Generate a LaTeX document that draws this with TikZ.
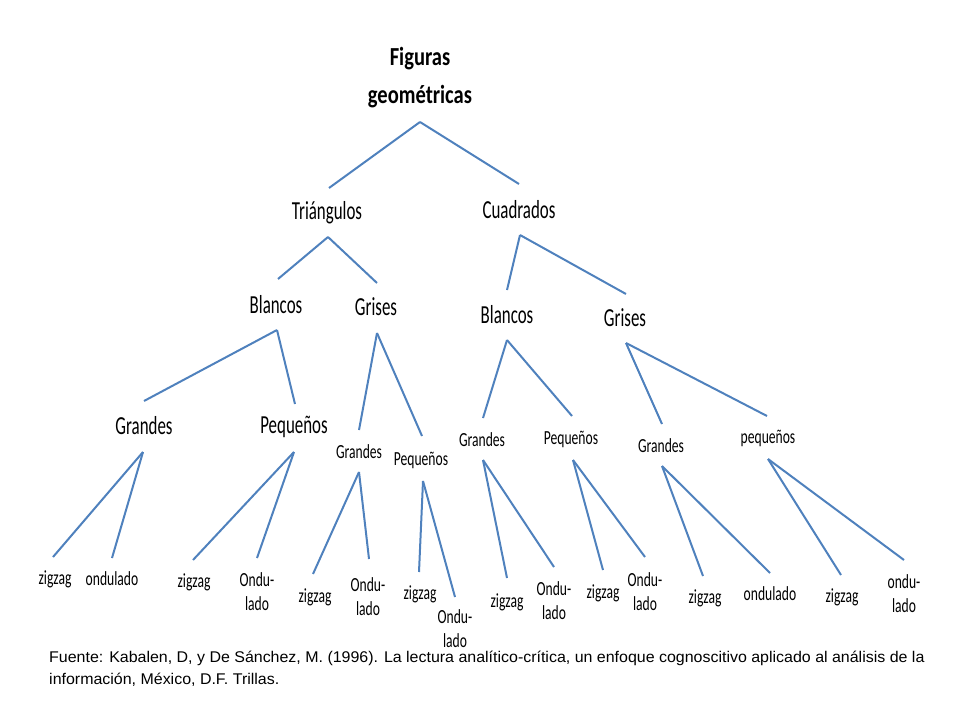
\documentclass[tikz,border=0pt]{standalone}
\usepackage{fontspec}
\setmainfont{Carlito}
\newfontfamily\sourcefont{Liberation Sans}
\usepackage{xcolor}
\usetikzlibrary{calc}

\definecolor{lineblue}{RGB}{79,129,189}

\tikzset{
  branch/.style = {draw=lineblue, line width=2pt},
  rootlbl/.style = {font=\bfseries\fontsize{26}{38}\selectfont, align=center, xscale=0.79, inner sep=0pt},
  biglbl/.style = {font=\fontsize{26}{30}\selectfont, xscale=0.65, inner sep=0pt},
  smalllbl/.style = {font=\fontsize{20}{24}\selectfont, align=center, xscale=0.68, inner sep=0pt},
  srclbl/.style = {font=\sourcefont\fontsize{15.5}{22}\selectfont, xscale=1.03, anchor=base west, inner sep=0pt},
}

\begin{document}
\begin{tikzpicture}[x=1pt,y=-1pt]

  \useasboundingbox (0,0) rectangle (960,720);

  % Labels of the tree, one level after the other
  \node[rootlbl] (fig) at (420,78) {Figuras\\geométricas};

  \node[biglbl] (tri) at (327,213) {Triángulos};
  \node[biglbl] (cua) at (519,210) {Cuadrados};

  \node[biglbl] (tbl) at (276,305) {Blancos};
  \node[biglbl] (tgr) at (376,307) {Grises};
  \node[biglbl] (cbl) at (507,315) {Blancos};
  \node[biglbl] (cgr) at (625,318) {Grises};

  \node[biglbl]   (tblG) at (144,426) {Grandes};
  \node[biglbl]   (tblP) at (294,427) {Pequeños};
  \node[smalllbl] (tgrG) at (359,452) {Grandes};
  \node[smalllbl] (tgrP) at (421,460) {Pequeños};
  \node[smalllbl] (cblG) at (482,440) {Grandes};
  \node[smalllbl] (cblP) at (571,439) {Pequeños};
  \node[smalllbl] (cgrG) at (661,446) {Grandes};
  \node[smalllbl] (cgrP) at (768,438) {pequeños};

  % leaves
  \node[smalllbl] (tblGz) at (55,579)  {zigzag};
  \node[smalllbl] (tblGo) at (112,579) {ondulado};
  \node[smalllbl] (tblPz) at (194,582) {zigzag};
  \node[smalllbl] (tblPo) at (257,592) {Ondu-\\lado};
  \node[smalllbl] (tgrGz) at (315,597) {zigzag};
  \node[smalllbl] (tgrGo) at (368,597) {Ondu-\\lado};
  \node[smalllbl] (tgrPz) at (420,594) {zigzag};
  \node[smalllbl] (tgrPo) at (455,629) {Ondu-\\lado};
  \node[smalllbl] (cblGz) at (507,602) {zigzag};
  \node[smalllbl] (cblGo) at (554,601) {Ondu-\\lado};
  \node[smalllbl] (cblPz) at (603,593) {zigzag};
  \node[smalllbl] (cblPo) at (645,592) {Ondu-\\lado};
  \node[smalllbl] (cgrGz) at (705,598) {zigzag};
  \node[smalllbl] (cgrGo) at (770,594) {ondulado};
  \node[smalllbl] (cgrPz) at (842,597) {zigzag};
  \node[smalllbl] (cgrPo) at (904,594) {ondu-\\lado};

  % Apex under each parent label
  \coordinate (fig-a)  at (420,122);
  \coordinate (tri-a)  at (328,237);
  \coordinate (cua-a)  at (520,235);
  \coordinate (tbl-a)  at (277,330);
  \coordinate (tgr-a)  at (377,333);
  \coordinate (cbl-a)  at (507,340);
  \coordinate (cgr-a)  at (626,343);
  \coordinate (tblG-a) at (143,452);
  \coordinate (tblP-a) at (294,452);
  \coordinate (tgrG-a) at (359,472);
  \coordinate (tgrP-a) at (423,481);
  \coordinate (cblG-a) at (483,460);
  \coordinate (cblP-a) at (573,460);
  \coordinate (cgrG-a) at (662,466);
  \coordinate (cgrP-a) at (768,459);

  % Free end above each child label
  \coordinate (tri-t)   at (329,188);
  \coordinate (cua-t)   at (519,184);
  \coordinate (tbl-t)   at (278,279);
  \coordinate (tgr-t)   at (377,283);
  \coordinate (cbl-t)   at (507,290);
  \coordinate (cgr-t)   at (626,294);
  \coordinate (tblG-t)  at (144,401);
  \coordinate (tblP-t)  at (295,404);
  \coordinate (tgrG-t)  at (359,430);
  \coordinate (tgrP-t)  at (422,436);
  \coordinate (cblG-t)  at (483,418);
  \coordinate (cblP-t)  at (572,416);
  \coordinate (cgrG-t)  at (662,424);
  \coordinate (cgrP-t)  at (767,416);
  \coordinate (tblGz-t) at (53,557);
  \coordinate (tblGo-t) at (112,558);
  \coordinate (tblPz-t) at (193,560);
  \coordinate (tblPo-t) at (257,558);
  \coordinate (tgrGz-t) at (313,574);
  \coordinate (tgrGo-t) at (369,559);
  \coordinate (tgrPz-t) at (419,572);
  \coordinate (tgrPo-t) at (455,597);
  \coordinate (cblGz-t) at (507,578);
  \coordinate (cblGo-t) at (554,567);
  \coordinate (cblPz-t) at (603,570);
  \coordinate (cblPo-t) at (645,557);
  \coordinate (cgrGz-t) at (703,576);
  \coordinate (cgrGo-t) at (770,573);
  \coordinate (cgrPz-t) at (841,575);
  \coordinate (cgrPo-t) at (904,560);

  % Branches from parent to child
  \foreach \p/\c in {fig/tri, fig/cua,
                     tri/tbl, tri/tgr, cua/cbl, cua/cgr,
                     tbl/tblG, tbl/tblP, tgr/tgrG, tgr/tgrP,
                     cbl/cblG, cbl/cblP, cgr/cgrG, cgr/cgrP,
                     tblG/tblGz, tblG/tblGo, tblP/tblPz, tblP/tblPo,
                     tgrG/tgrGz, tgrG/tgrGo, tgrP/tgrPz, tgrP/tgrPo,
                     cblG/cblGz, cblG/cblGo, cblP/cblPz, cblP/cblPo,
                     cgrG/cgrGz, cgrG/cgrGo, cgrP/cgrPz, cgrP/cgrPo}
    \draw[branch] (\p-a) -- (\c-t);

  % Source line under the tree
  \node[srclbl] (src1) at (49,662) {Fuente: Kabalen, D, y De Sánchez, M. (1996). La lectura analítico-crítica, un enfoque cognoscitivo aplicado al análisis de la};
  \node[srclbl] (src2) at (49,684) {información, México, D.F. Trillas.};

\end{tikzpicture}
\end{document}
